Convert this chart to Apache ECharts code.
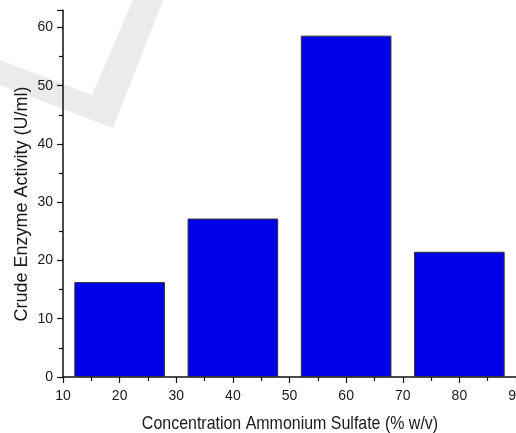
<!DOCTYPE html>
<html><head><meta charset="utf-8">
<script src="https://cdn.jsdelivr.net/npm/echarts@6/dist/echarts.min.js"></script>
<style>html,body{margin:0;padding:0;background:#fff}#c{width:516px;height:433px}</style>
</head><body><div id="c"></div>
<script>
const concentrations = [20, 40, 60, 80];
const activity = [16.3, 27.2, 58.6, 21.5];
const xTicks = [10, 20, 30, 40, 50, 60, 70, 80, 90];
const yTicks = [0, 10, 20, 30, 40, 50, 60];
const xTitle = 'Concentration Ammonium Sulfate (% w/v)';
const yTitle = 'Crude Enzyme Activity (U/ml)';

const chart = echarts.init(document.getElementById('c'), null, {renderer: 'canvas'});
const font = 'Liberation Sans, Arial, sans-serif';
chart.setOption({
  animation: false,
  backgroundColor: '#fff',
  graphic: [{
    type: 'polygon', z: -10, silent: true,
    shape: {points: [[0,60],[92,95],[133,0],[163,0],[113,128],[0,85]]},
    style: {fill: '#ebebeb'}
  }, {
    type: 'text', silent: true, x: 290, y: 424, scaleX: 0.84,
    style: {text: xTitle, x: 0, y: 0, align: 'center', verticalAlign: 'middle',
            fontFamily: font, fontSize: 19, fill: '#1a1a1a'}
  }, {
    type: 'text', silent: true, x: 22, y: 204, rotation: Math.PI / 2,
    style: {text: yTitle, x: 0, y: 0, align: 'center', verticalAlign: 'middle',
            fontFamily: font, fontSize: 18, fill: '#1a1a1a'}
  }],
  grid: {left: 63, right: 0, top: 10, bottom: 56, containLabel: false, outerBoundsMode: 'none'},
  xAxis: {
    type: 'value', min: xTicks[0], max: xTicks[xTicks.length-1], interval: 10,
    axisLine: {show: true, onZero: false, lineStyle: {color: '#111', width: 1.5}},
    axisTick: {show: true, inside: false, length: 6, lineStyle: {color: '#111', width: 1.2}},
    minorTick: {show: true, splitNumber: 2, length: 4, lineStyle: {color: '#111', width: 1.2}},
    axisLabel: {fontFamily: font, fontSize: 14, color: '#1a1a1a', margin: 12, showMaxLabel: true, hideOverlap: false},
    splitLine: {show: false}
  },
  yAxis: {
    type: 'value', min: 0, max: 63, interval: 10,
    axisLine: {show: true, lineStyle: {color: '#111', width: 1.5}},
    axisTick: {show: true, inside: false, length: 6, lineStyle: {color: '#111', width: 1.2}},
    minorTick: {show: true, splitNumber: 2, length: 4, lineStyle: {color: '#111', width: 1.2}},
    axisLabel: {fontFamily: font, fontSize: 14, color: '#1a1a1a', margin: 10, showMaxLabel: false},
    splitLine: {show: false}
  },
  series: [{
    type: 'bar',
    data: concentrations.map((c, i) => [c, activity[i]]),
    barWidth: '80%',
    itemStyle: {color: '#0000e6', borderColor: '#333', borderWidth: 1}
  }]
});
</script></body></html>
